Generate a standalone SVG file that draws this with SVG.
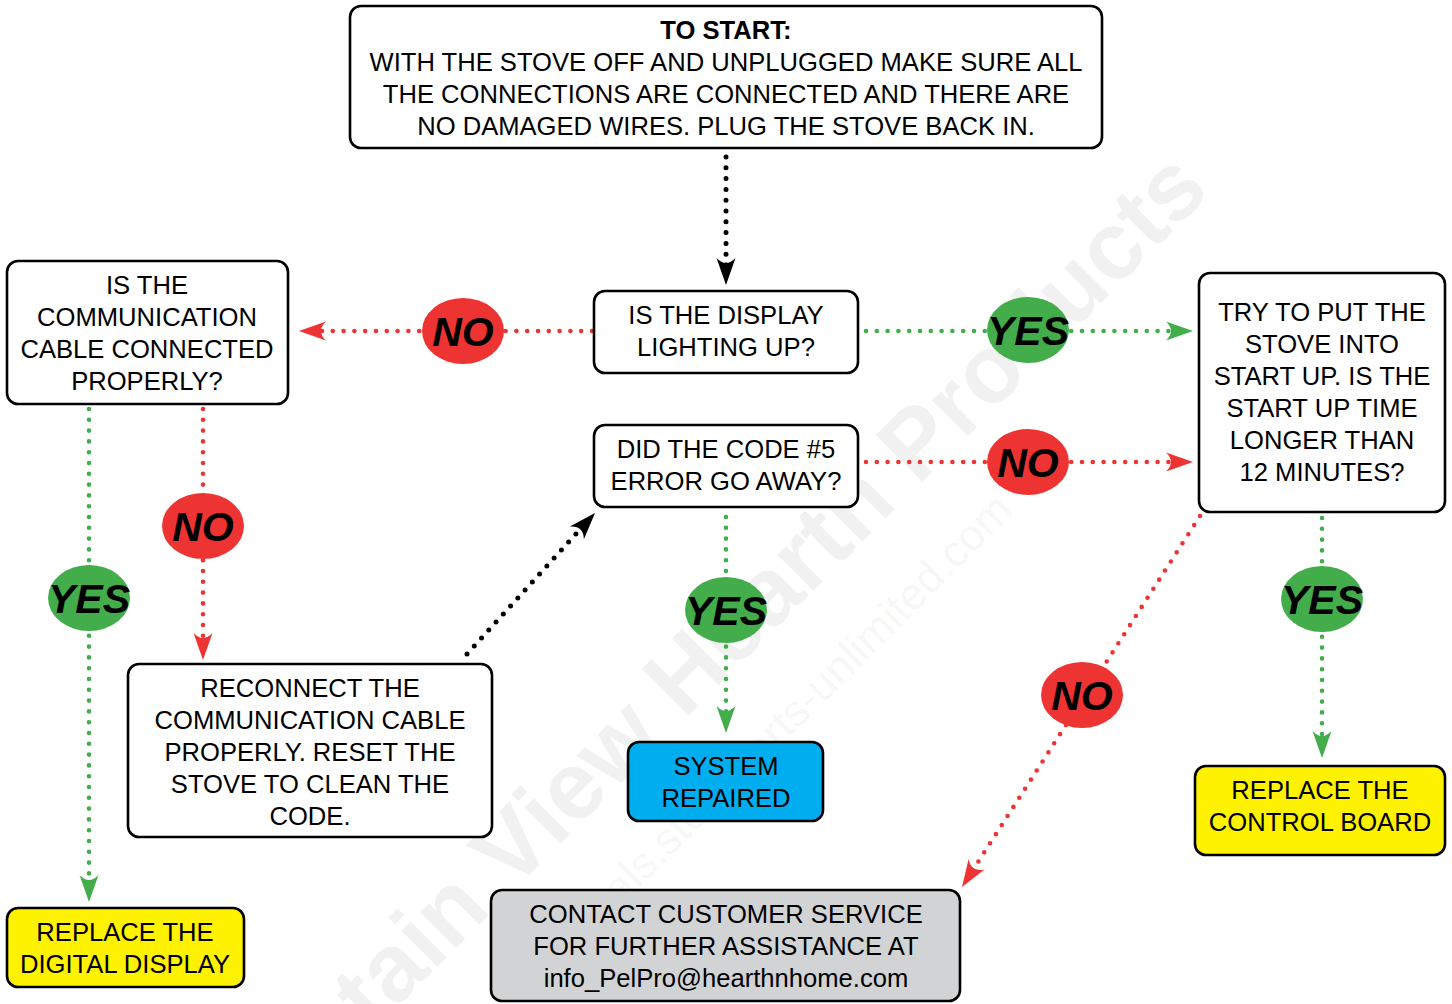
<svg xmlns="http://www.w3.org/2000/svg" width="1452" height="1004" viewBox="0 0 1452 1004">
  <style>
    .box { fill: #ffffff; stroke: #000000; stroke-width: 2.6; }
    .yellow { fill: #fff200; }
    .blue { fill: #00aeef; }
    .grey { fill: #d1d3d4; }
    .txt { font-family: "Liberation Sans", Arial, sans-serif; font-size: 25.6px; fill: #000000; text-anchor: middle; }
    .bold { font-weight: bold; }
    .lbl { font-family: "Liberation Sans", Arial, sans-serif; font-size: 41px; font-weight: bold; font-style: italic; fill: #000000; text-anchor: middle; }
    .dot { fill: none; stroke-linecap: round; stroke-dasharray: 0 10.8; }
    .k { stroke: #000000; stroke-width: 5; }
    .r { stroke: #ee3333; stroke-width: 4.6; }
    .g { stroke: #42ad4a; stroke-width: 4.6; }
    .yes { fill: #42ad4a; }
    .no { fill: #ee3333; }
    .wm { font-family: "Liberation Sans", Arial, sans-serif; fill: #000000; fill-opacity: 0.055; }
  </style>
  <defs>
    <marker id="ah-k" viewBox="-30 -12 32 24" refX="-10" refY="0" markerWidth="32" markerHeight="24" markerUnits="userSpaceOnUse" orient="auto">
      <path d="M0,0 L-27,-9.5 Q-17,0 -27,9.5 Z" fill="#000000"/>
    </marker>
    <marker id="ah-r" viewBox="-30 -12 32 24" refX="-10" refY="0" markerWidth="32" markerHeight="24" markerUnits="userSpaceOnUse" orient="auto">
      <path d="M0,0 L-27,-9.5 Q-17,0 -27,9.5 Z" fill="#ee3333"/>
    </marker>
    <marker id="ah-g" viewBox="-30 -12 32 24" refX="-10" refY="0" markerWidth="32" markerHeight="24" markerUnits="userSpaceOnUse" orient="auto">
      <path d="M0,0 L-27,-9.5 Q-17,0 -27,9.5 Z" fill="#42ad4a"/>
    </marker>
  </defs>

  <rect width="1452" height="1004" fill="#ffffff"/>

  <!-- background watermark -->
  <g id="watermark">
    <text class="wm" x="1212" y="192" font-size="96" font-weight="bold" text-anchor="end" transform="rotate(-45 1212 192)">Mountain View Hearth Products</text>
    <text class="wm" x="1015" y="512" font-size="44" text-anchor="end" transform="rotate(-45 1015 512)">manuals.stoveparts-unlimited.com</text>
  </g>

  <!-- connectors -->
  <g id="connectors">
    <line class="dot k" x1="726" y1="157" x2="726" y2="275" marker-end="url(#ah-k)"/>
    <line class="dot r" x1="592" y1="331" x2="309" y2="331" marker-end="url(#ah-r)"/>
    <line class="dot g" x1="866" y1="331" x2="1183" y2="331" marker-end="url(#ah-g)"/>
    <line class="dot r" x1="866" y1="462" x2="1183" y2="462" marker-end="url(#ah-r)"/>
    <line class="dot g" x1="89" y1="409" x2="89" y2="892" marker-end="url(#ah-g)"/>
    <line class="dot r" x1="203" y1="409" x2="203" y2="650" marker-end="url(#ah-r)"/>
    <line class="dot k" x1="467" y1="654" x2="588.3" y2="520.4" marker-end="url(#ah-k)"/>
    <line class="dot g" x1="726" y1="517" x2="726" y2="723" marker-end="url(#ah-g)"/>
    <line class="dot g" x1="1322" y1="518" x2="1322" y2="748" marker-end="url(#ah-g)"/>
    <line class="dot r" x1="1200" y1="516" x2="967.4" y2="878.6" marker-end="url(#ah-r)"/>
  </g>

  <!-- answer labels -->
  <g id="label-no-display">
    <ellipse class="no" cx="463" cy="331" rx="41" ry="33"/>
    <text class="lbl" x="463" y="346">NO</text>
  </g>
  <g id="label-yes-display">
    <ellipse class="yes" cx="1028" cy="330" rx="41" ry="33"/>
    <text class="lbl" x="1028" y="345">YES</text>
  </g>
  <g id="label-no-code">
    <ellipse class="no" cx="1028" cy="462" rx="41" ry="33"/>
    <text class="lbl" x="1028" y="477">NO</text>
  </g>
  <g id="label-yes-cable">
    <ellipse class="yes" cx="89" cy="598" rx="41" ry="33"/>
    <text class="lbl" x="89" y="613">YES</text>
  </g>
  <g id="label-no-cable">
    <ellipse class="no" cx="203" cy="526" rx="41" ry="33"/>
    <text class="lbl" x="203" y="541">NO</text>
  </g>
  <g id="label-yes-code">
    <ellipse class="yes" cx="726" cy="610" rx="41" ry="33"/>
    <text class="lbl" x="726" y="625">YES</text>
  </g>
  <g id="label-yes-startup">
    <ellipse class="yes" cx="1322" cy="599" rx="41" ry="33"/>
    <text class="lbl" x="1322" y="614">YES</text>
  </g>
  <g id="label-no-startup">
    <ellipse class="no" cx="1082" cy="695" rx="41" ry="33"/>
    <text class="lbl" x="1082" y="710">NO</text>
  </g>

  <!-- nodes -->
  <g id="node-start">
    <rect class="box" x="350" y="6" width="752" height="142" rx="11"/>
    <text class="txt bold" x="726" y="39">TO START:</text>
    <text class="txt" x="726" y="71">WITH THE STOVE OFF AND UNPLUGGED MAKE SURE ALL</text>
    <text class="txt" x="726" y="103">THE CONNECTIONS ARE CONNECTED AND THERE ARE</text>
    <text class="txt" x="726" y="135">NO DAMAGED WIRES. PLUG THE STOVE BACK IN.</text>
  </g>
  <g id="node-display">
    <rect class="box" x="594" y="291" width="264" height="82" rx="11"/>
    <text class="txt" x="726" y="324">IS THE DISPLAY</text>
    <text class="txt" x="726" y="356">LIGHTING UP?</text>
  </g>
  <g id="node-cable">
    <rect class="box" x="7" y="261" width="281" height="143" rx="11"/>
    <text class="txt" x="147" y="294">IS THE</text>
    <text class="txt" x="147" y="326">COMMUNICATION</text>
    <text class="txt" x="147" y="358">CABLE CONNECTED</text>
    <text class="txt" x="147" y="390">PROPERLY?</text>
  </g>
  <g id="node-code">
    <rect class="box" x="594" y="425" width="264" height="82" rx="11"/>
    <text class="txt" x="726" y="458">DID THE CODE #5</text>
    <text class="txt" x="726" y="490">ERROR GO AWAY?</text>
  </g>
  <g id="node-startup">
    <rect class="box" x="1199" y="273" width="246" height="239" rx="11"/>
    <text class="txt" x="1322" y="321">TRY TO PUT THE</text>
    <text class="txt" x="1322" y="353">STOVE INTO</text>
    <text class="txt" x="1322" y="385">START UP. IS THE</text>
    <text class="txt" x="1322" y="417">START UP TIME</text>
    <text class="txt" x="1322" y="449">LONGER THAN</text>
    <text class="txt" x="1322" y="481">12 MINUTES?</text>
  </g>
  <g id="node-reconnect">
    <rect class="box" x="128" y="664" width="364" height="173" rx="11"/>
    <text class="txt" x="310" y="697">RECONNECT THE</text>
    <text class="txt" x="310" y="729">COMMUNICATION CABLE</text>
    <text class="txt" x="310" y="761">PROPERLY. RESET THE</text>
    <text class="txt" x="310" y="793">STOVE TO CLEAN THE</text>
    <text class="txt" x="310" y="825">CODE.</text>
  </g>
  <g id="node-repaired">
    <rect class="box blue" x="628" y="742" width="195" height="79" rx="11"/>
    <text class="txt" x="726" y="775">SYSTEM</text>
    <text class="txt" x="726" y="807">REPAIRED</text>
  </g>
  <g id="node-display-replace">
    <rect class="box yellow" x="7" y="908" width="237" height="79" rx="11"/>
    <text class="txt" x="125" y="941">REPLACE THE</text>
    <text class="txt" x="125" y="973">DIGITAL DISPLAY</text>
  </g>
  <g id="node-board-replace">
    <rect class="box yellow" x="1195" y="766" width="250" height="89" rx="11"/>
    <text class="txt" x="1320" y="799">REPLACE THE</text>
    <text class="txt" x="1320" y="831">CONTROL BOARD</text>
  </g>
  <g id="node-contact">
    <rect class="box grey" x="491" y="890" width="469" height="111" rx="11"/>
    <text class="txt" x="726" y="923">CONTACT CUSTOMER SERVICE</text>
    <text class="txt" x="726" y="955">FOR FURTHER ASSISTANCE AT</text>
    <text class="txt" x="726" y="987">info_PelPro@hearthnhome.com</text>
  </g>
</svg>
